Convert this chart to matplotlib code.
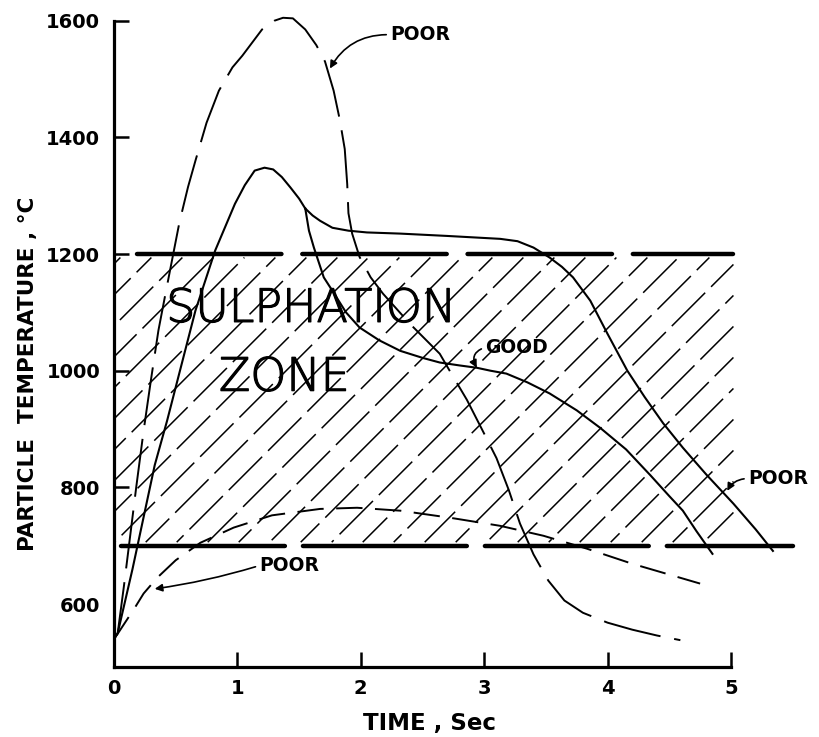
import matplotlib
matplotlib.use('Agg')
import matplotlib.pyplot as plt
import matplotlib.patheffects as pe
import numpy as np

plt.rcParams.update({
    'font.family': ['DejaVu Sans'],
    'lines.scale_dashes': False,
})

# tall "POOR" curve (dashed) - peaks near 1600 C
poor_high_t = [0.0, 0.03, 0.08, 0.13, 0.18, 0.24, 0.30, 0.36, 0.42, 0.48, 0.53, 0.60,
               0.66, 0.75, 0.85, 0.96, 1.04, 1.20, 1.30, 1.37, 1.45, 1.55, 1.64, 1.71,
               1.78, 1.83, 1.87, 1.89, 1.90, 1.93, 1.99, 2.08, 2.18, 2.40, 2.64, 2.72,
               2.86, 3.00, 3.10, 3.20, 3.29, 3.40, 3.52, 3.65, 3.80, 4.00, 4.20, 4.40, 4.59]
poor_high_T = [540, 550, 630, 715, 800, 897, 985, 1069, 1135, 1200, 1254, 1315,
               1360, 1425, 1480, 1520, 1540, 1585, 1600, 1605, 1604, 1585, 1558, 1530,
               1480, 1430, 1380, 1320, 1270, 1235, 1195, 1160, 1132, 1080, 1029, 1000,
               950, 892, 850, 795, 738, 685, 640, 606, 585, 568, 556, 546, 538]

# solid rise shared by the GOOD curve and the right-hand POOR curve
rise_t = [0.0, 0.03, 0.15, 0.33, 0.43, 0.52, 0.66, 0.82, 0.98, 1.06, 1.14, 1.22,
          1.29, 1.36, 1.43, 1.50, 1.55]
rise_T = [540, 550, 660, 838, 914, 988, 1103, 1206, 1286, 1318, 1343, 1348,
          1345, 1332, 1314, 1295, 1278]

good_t = [1.55, 1.58, 1.62, 1.70, 1.77, 1.88, 1.99, 2.15, 2.32, 2.50, 2.64, 2.80,
          2.94, 3.05, 3.18, 3.35, 3.53, 3.75, 3.94, 4.15, 4.35, 4.50, 4.61, 4.72, 4.85]
good_T = [1278, 1240, 1211, 1160, 1137, 1100, 1074, 1052, 1034, 1022, 1014, 1009,
          1005, 1000, 995, 980, 961, 932, 902, 865, 820, 785, 760, 725, 686]

poor_right_t = [1.55, 1.61, 1.67, 1.77, 1.90, 2.05, 2.32, 2.70, 3.13, 3.27, 3.40, 3.53,
                3.63, 3.72, 3.86, 4.00, 4.16, 4.30, 4.45, 4.61, 4.80, 5.02, 5.20, 5.34]
poor_right_T = [1278, 1266, 1257, 1245, 1240, 1237, 1235, 1231, 1226, 1222, 1211, 1194,
                1178, 1160, 1120, 1063, 1000, 955, 910, 868, 822, 772, 728, 691]

# low "POOR" curve (dashed)
poor_low_t = [0.0, 0.03, 0.17, 0.24, 0.35, 0.50, 0.70, 0.97, 1.28, 1.67, 1.97, 2.32,
              2.72, 3.13, 3.48, 3.83, 4.20, 4.75]
poor_low_T = [540, 549, 594, 618, 645, 675, 705, 731, 752, 763, 765, 760,
              748, 734, 717, 695, 669, 635]

# sulphation zone
ZONE_LOW, ZONE_HIGH = 700, 1200
ZONE_TOP_X = [0.19, 5.02]
ZONE_BOTTOM_X = [0.06, 5.50]
HATCH_X = [0.0, 5.02]

W_PX, H_PX = 819, 737
XMAX = 5.6
YMIN, YMAX = 492, 1630

fig = plt.figure(figsize=(W_PX / 100, H_PX / 100), dpi=100)
ax_l, ax_b = 114 / W_PX, (H_PX - 667) / H_PX
ax_w, ax_h = (805 - 114) / W_PX, 663.8 / H_PX
ax = fig.add_axes([ax_l, ax_b, ax_w, ax_h])
ax.set_xlim(0, XMAX)
ax.set_ylim(YMIN, YMAX)

# hatch lines at 45 degrees on screen
px_x = ax_w * W_PX / XMAX
px_y = ax_h * H_PX / (YMAX - YMIN)
k = px_x / px_y
step = 31 / px_x
x0s = np.arange(-(ZONE_HIGH - ZONE_LOW) / k + 0.08, HATCH_X[1], step)
for i, x0 in enumerate(x0s):
    xa = max(HATCH_X[0], x0 + 6 / k)
    xb = min(HATCH_X[1], x0 + (ZONE_HIGH - ZONE_LOW - 6) / k)
    if xb <= xa:
        continue
    ya = ZONE_LOW + k * (xa - x0)
    yb = ZONE_LOW + k * (xb - x0)
    ax.plot([xa, xb], [ya, yb], color='black', lw=1.1,
            linestyle=((i * 17) % 40, (34, 6)), solid_capstyle='butt', zorder=1)

ax.plot(ZONE_TOP_X, [ZONE_HIGH] * 2, color='black', lw=3.2,
        linestyle=(0, (104, 15)), dash_capstyle='round', zorder=3)
ax.plot(ZONE_BOTTOM_X, [ZONE_LOW] * 2, color='black', lw=3.2,
        linestyle=(0, (118, 13)), dash_capstyle='round', zorder=3)

# curves
ax.plot(poor_high_t, poor_high_T, color='black', lw=1.4, linestyle=(0, (42, 10)), zorder=4)
ax.plot(rise_t, rise_T, color='black', lw=1.5, zorder=4)
ax.plot(good_t, good_T, color='black', lw=1.5, zorder=4)
ax.plot(poor_right_t, poor_right_T, color='black', lw=1.5, zorder=4)
ax.plot(poor_low_t, poor_low_T, color='black', lw=1.4, linestyle=(0, (19, 9)), zorder=4)

# zone text
thick = [pe.withStroke(linewidth=0.9, foreground='black')]
ax.text(1.60, 1106, 'SULPHATION', ha='center', va='center', fontsize=33,
        fontweight='light', path_effects=thick, zorder=5)
ax.text(1.38, 988, 'ZONE', ha='center', va='center', fontsize=33,
        fontweight='light', path_effects=thick, zorder=5)

lab = dict(fontsize=13.5, fontweight='bold', va='center', ha='left', zorder=6)
arr = dict(arrowstyle='-|>', color='black', lw=1.2, shrinkA=1, shrinkB=0,
           mutation_scale=11)
ax.annotate('POOR', xy=(1.75, 1518), xytext=(2.24, 1576),
            arrowprops=dict(arr, connectionstyle='arc3,rad=0.3', relpos=(0, 0.5)), **lab)
ax.annotate('GOOD', xy=(2.94, 1005), xytext=(3.01, 1040),
            arrowprops=dict(arr, connectionstyle='arc3,rad=0.6', relpos=(0, 0.5)), **lab)
ax.annotate('POOR', xy=(4.97, 794), xytext=(5.14, 815),
            arrowprops=dict(arr, connectionstyle='arc3,rad=0.3', relpos=(0, 0.5)), **lab)
ax.annotate('POOR', xy=(0.33, 626), xytext=(1.18, 666),
            arrowprops=dict(arr, connectionstyle='arc3,rad=-0.04', relpos=(0, 0.5)), **lab)

# axes
for s in ['top', 'right']:
    ax.spines[s].set_visible(False)
ax.spines['left'].set_bounds(YMIN, 1600)
ax.spines['bottom'].set_bounds(0, 5)
for s in ['left', 'bottom']:
    ax.spines[s].set_linewidth(2.3)

ax.set_xticks([0, 1, 2, 3, 4, 5])
ax.set_yticks([600, 800, 1000, 1200, 1400, 1600])
ax.tick_params(direction='in', length=11, width=1.8, labelsize=14)
ax.tick_params(axis='y', pad=10)
ax.tick_params(axis='x', pad=9)
for lbl in ax.get_xticklabels() + ax.get_yticklabels():
    lbl.set_fontweight('bold')
ax.yaxis.get_major_ticks()[0].tick1line.set_visible(False)
ax.xaxis.get_major_ticks()[0].tick1line.set_visible(False)

ax.set_ylabel('PARTICLE  TEMPERATURE , °C', fontsize=15.5, fontweight='bold', va='center')
ax.yaxis.set_label_coords(-0.1245, 0.441)
ax.set_xlabel('TIME , Sec', fontsize=16.5, fontweight='bold', va='center')
ax.xaxis.set_label_coords(0.456, -0.0844)

fig.savefig('out.png', dpi=100)
